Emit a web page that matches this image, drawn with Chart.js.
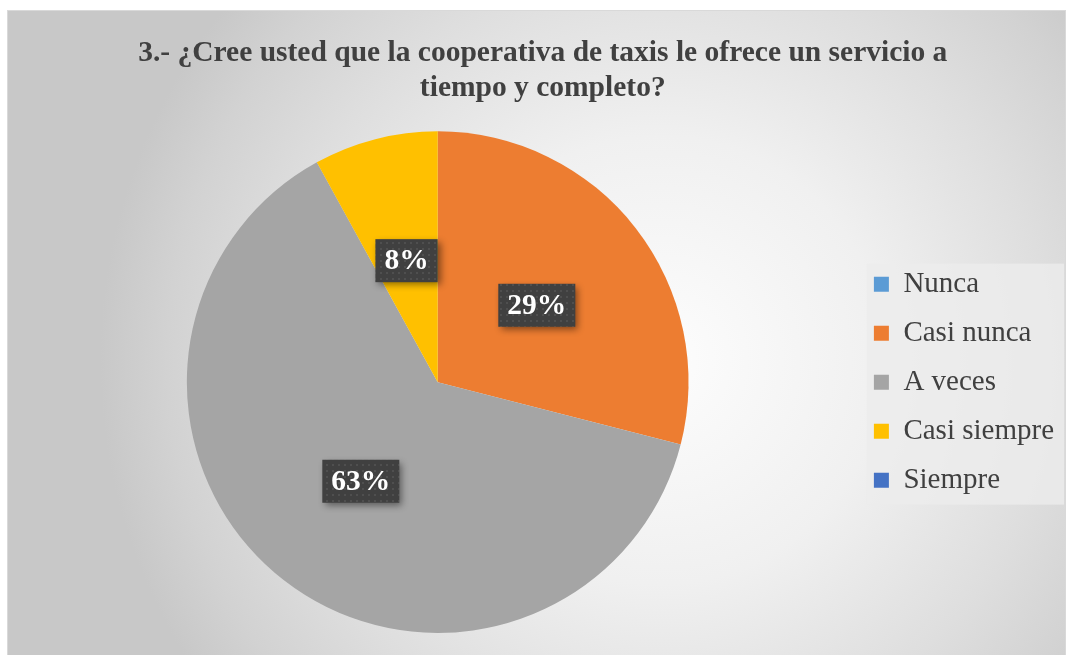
<!DOCTYPE html>
<html>
<head>
  <meta charset="utf-8">
  <title>Pregunta 3</title>
  <script src="https://cdn.jsdelivr.net/npm/chart.js"></script>
  <style>
    html, body { margin: 0; padding: 0; background: #ffffff; overflow: hidden; }
    canvas { display: block; }
  </style>
</head>
<body>
  <canvas id="pieChart" width="1067" height="655"></canvas>

  <script>
    var titleLines = ['3.- ¿Cree usted que la cooperativa de taxis le ofrece un servicio a', 'tiempo y completo?'];
    var categories = ['Nunca', 'Casi nunca', 'A veces', 'Casi siempre', 'Siempre'];
    var percentages = [0, 29, 63, 8, 0];
    var sliceColors = ['#5B9BD5', '#ED7D31', '#A5A5A5', '#FFC000', '#4472C4'];

    var serif = "'Liberation Serif', 'Times New Roman', serif";

    // small dotted texture for the label boxes
    var dotCanvas = document.createElement('canvas');
    dotCanvas.width = 6;
    dotCanvas.height = 6;
    var dctx = dotCanvas.getContext('2d');
    dctx.fillStyle = 'rgba(255,255,255,0.08)';
    dctx.fillRect(2, 2, 2, 2);

    var backgroundPlugin = {
      id: 'fondo',
      beforeDraw: function(chart) {
        var ctx = chart.ctx;
        ctx.save();
        var g = ctx.createRadialGradient(660, 360, 0, 660, 360, 560);
        g.addColorStop(0, '#fdfdfd');
        g.addColorStop(0.4, '#f0f0f0');
        g.addColorStop(0.7, '#dedede');
        g.addColorStop(0.88, '#d2d2d2');
        g.addColorStop(1, '#c8c8c8');
        ctx.fillStyle = g;
        ctx.fillRect(7, 10, 1059, 645);
        ctx.strokeStyle = '#d9d9d9';
        ctx.lineWidth = 1;
        ctx.strokeRect(7.5, 10.5, 1058, 650);

        // light panel behind the legend
        var boxes = chart.legend.legendHitBoxes;
        if (boxes && boxes.length) {
          var first = boxes[0];
          var last = boxes[boxes.length - 1];
          ctx.fillStyle = 'rgba(236,236,236,0.8)';
          ctx.fillRect(first.left - 7, first.top - 6,
            chart.legend.right - first.left + 7, last.top + last.height - first.top + 16);
        }
        ctx.restore();
      }
    };

    var labelPlugin = {
      id: 'etiquetas',
      afterDatasetsDraw: function(chart) {
        var ctx = chart.ctx;
        var meta = chart.getDatasetMeta(0);
        var pattern = ctx.createPattern(dotCanvas, 'repeat');
        ctx.save();
        ctx.font = 'bold 29.5px ' + serif;
        ctx.textAlign = 'center';
        ctx.textBaseline = 'middle';
        meta.data.forEach(function(arc, i) {
          var v = percentages[i];
          if (!v) return;
          var p = arc.tooltipPosition();
          var text = v + '%';
          var w = ctx.measureText(text).width + 18;
          var h = 43;
          var x = p.x - w / 2;
          var y = p.y - h / 2;

          ctx.save();
          ctx.shadowColor = 'rgba(0,0,0,0.45)';
          ctx.shadowBlur = 7;
          ctx.shadowOffsetX = 3;
          ctx.shadowOffsetY = 3;
          ctx.fillStyle = '#404040';
          ctx.fillRect(x, y, w, h);
          ctx.restore();

          ctx.fillStyle = pattern;
          ctx.fillRect(x, y, w, h);
          ctx.fillStyle = '#ffffff';
          ctx.fillText(text, p.x, p.y + 1);
        });
        ctx.restore();
      }
    };

    new Chart(document.getElementById('pieChart'), {
      type: 'pie',
      data: {
        labels: categories,
        datasets: [{
          data: percentages,
          backgroundColor: sliceColors,
          borderWidth: 0
        }]
      },
      options: {
        responsive: false,
        animation: false,
        layout: {
          padding: { left: 21.5, right: 3, top: 10, bottom: 22 }
        },
        plugins: {
          title: {
            display: true,
            text: titleLines,
            color: '#404040',
            font: { family: serif, size: 29.5, weight: 'bold', lineHeight: 1.2 },
            padding: { top: 25.5, bottom: 25 }
          },
          legend: {
            position: 'right',
            fullSize: false,
            labels: {
              boxWidth: 15,
              boxHeight: 15,
              padding: 20,
              color: '#404040',
              font: { family: serif, size: 29 }
            }
          },
          tooltip: { enabled: false }
        }
      },
      plugins: [backgroundPlugin, labelPlugin]
    });
  </script>
</body>
</html>
